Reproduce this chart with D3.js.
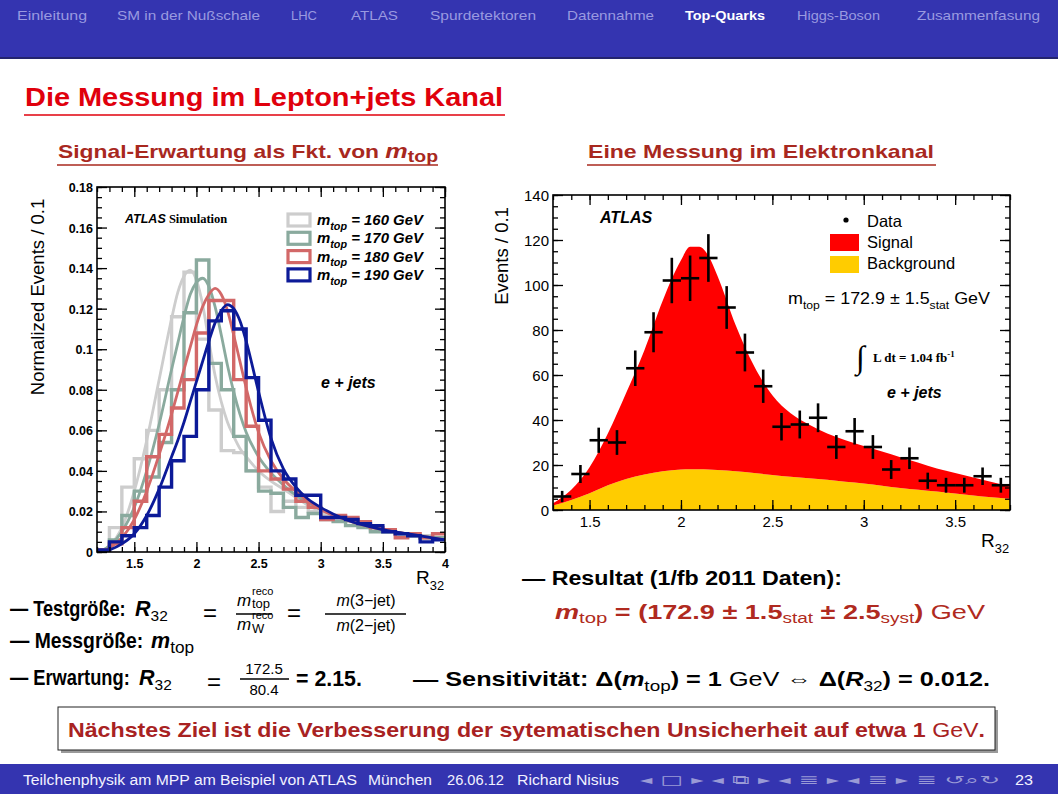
<!DOCTYPE html>
<html><head><meta charset="utf-8">
<script src="https://cdn.jsdelivr.net/npm/d3@7"></script>
<style>body{margin:0;background:#fff}svg{display:block}</style>
</head><body><svg id="s" width="1058" height="794"></svg>
<script>
// ---------------- DATA ----------------
const navItems = ["Einleitung","SM in der Nußschale","LHC","ATLAS","Spurdetektoren","Datennahme","Top-Quarks","Higgs-Boson","Zusammenfasung"];
const activeNav = "Top-Quarks";

// Left plot: normalised R32 templates (bins of width 0.1 starting at binLow)
const binLow = [1.2,1.3,1.4,1.5,1.6,1.7,1.8,1.9,2.0,2.1,2.2,2.3,2.4,2.5,2.6,2.7,2.8,2.9,3.0,3.1,3.2,3.3,3.4,3.5,3.6,3.7,3.8,3.9];
const binWidth = 0.1;
const hist160 = [0.001,0.012,0.032,0.046,0.060,0.080,0.116,0.138,0.105,0.070,0.050,0.049,0.040,0.032,0.020,0.025,0.022,0.020,0.018,0.016,0.015,0.013,0.011,0.010,0.009,0.008,0.008,0.007];
const hist170 = [0.001,0.006,0.018,0.030,0.037,0.054,0.080,0.118,0.144,0.093,0.080,0.057,0.040,0.030,0.029,0.022,0.017,0.019,0.016,0.015,0.013,0.012,0.010,0.010,0.009,0.008,0.007,0.007];
const hist180 = [0.001,0.004,0.012,0.025,0.047,0.058,0.071,0.085,0.108,0.124,0.124,0.085,0.062,0.040,0.036,0.031,0.025,0.022,0.016,0.018,0.017,0.015,0.012,0.011,0.007,0.009,0.007,0.009];
const hist190 = [0.001,0.005,0.008,0.012,0.018,0.032,0.045,0.057,0.080,0.114,0.119,0.110,0.086,0.065,0.040,0.036,0.028,0.028,0.017,0.017,0.016,0.014,0.013,0.010,0.009,0.008,0.005,0.006];
const fitX   = [1.2,1.25,1.3,1.4,1.5,1.6,1.7,1.8,1.85,1.9,1.95,2.0,2.05,2.1,2.15,2.2,2.25,2.3,2.35,2.4,2.5,2.6,2.7,2.8,2.9,3.0,3.2,3.5,3.8,4.0];
const fit160 = [0,0.001,0.003,0.012,0.030,0.055,0.085,0.115,0.128,0.136,0.139,0.134,0.122,0.104,0.087,0.074,0.064,0.057,0.051,0.047,0.040,0.035,0.031,0.027,0.023,0.020,0.016,0.011,0.008,0.007];
const fit170 = [0,0.001,0.003,0.010,0.022,0.040,0.063,0.090,0.103,0.116,0.127,0.133,0.135,0.131,0.121,0.107,0.092,0.079,0.068,0.059,0.047,0.039,0.033,0.028,0.024,0.021,0.016,0.011,0.008,0.007];
const fit180 = [0,0,0.002,0.007,0.016,0.030,0.048,0.068,0.079,0.090,0.101,0.112,0.121,0.127,0.130,0.127,0.119,0.107,0.094,0.081,0.059,0.045,0.036,0.030,0.025,0.021,0.016,0.011,0.008,0.006];
const fit190 = [0,0,0.001,0.004,0.009,0.018,0.031,0.047,0.055,0.064,0.074,0.084,0.094,0.104,0.113,0.119,0.122,0.120,0.114,0.104,0.079,0.056,0.041,0.032,0.026,0.022,0.016,0.011,0.008,0.006];
const massLabels = ["160","170","180","190"];
const leftYTicks = [0,0.02,0.04,0.06,0.08,0.1,0.12,0.14,0.16,0.18];
const leftXTicks = [1.5,2,2.5,3,3.5,4];

// Right plot: electron channel data and fit
const dataX   = [1.35,1.45,1.55,1.65,1.75,1.85,1.95,2.05,2.15,2.25,2.35,2.45,2.55,2.65,2.75,2.85,2.95,3.05,3.15,3.25,3.35,3.45,3.55,3.65,3.75];
const dataY   = [6,16,31,30,63,79,102,103,112,90,70,55,37,38,41,28,35,28,18,23,13,11,11,15,11];
const dataErr = [2.5,4,5.6,5.5,7.9,8.9,10.1,10.1,10.6,9.5,8.4,7.4,6.1,6.2,6.4,5.3,5.9,5.3,4.2,4.8,3.6,3.3,3.3,3.9,3.3];
const fitR    = [1.3,1.4,1.5,1.6,1.7,1.8,1.9,2.0,2.05,2.1,2.15,2.2,2.3,2.4,2.5,2.6,2.7,2.8,2.9,3.0,3.1,3.2,3.3,3.4,3.5,3.6,3.7,3.8];
const background = [2,4.5,7.5,11,13.8,15.8,17.2,18,18.1,18.1,18,17.8,17.2,16.4,15.6,14.8,14.1,13.4,12.6,11.8,10.8,9.8,9,8.2,7.3,6.5,5.7,5];
const signal     = [1,4.5,11.5,23,38.2,55.2,75.8,93,98.9,98.9,95,86.2,64.8,47.6,35.4,28.2,23.9,20.6,18.4,16.7,15.2,13.7,12,10.3,9.2,8,6.8,5.5];
const rightYTicks = [0,20,40,60,80,100,120,140];
const rightXTicks = [1.5,2,2.5,3,3.5];

// ---------------- DRAW ----------------
const FONT = "'Liberation Sans', Arial, Helvetica, sans-serif";
const SERIF = "'Liberation Serif', 'DejaVu Serif', serif";
const svg = d3.select('#s');

function rich(parent, x, y, parts, st) {
  const t = parent.append('text').attr('x', x).attr('y', y)
    .attr('font-family', st.family || FONT).attr('font-size', st.size)
    .attr('font-weight', st.weight || 'normal').attr('fill', st.fill || '#000')
    .attr('font-style', st.style || 'normal');
  if (st.anchor) t.attr('text-anchor', st.anchor);
  if (st.transform) t.attr('transform', st.transform);
  let shift = 0;
  parts.forEach(p => {
    if (typeof p === 'string') p = {t: p};
    const target = p.sub ? st.size * (p.drop || 0.32) : p.sup ? -st.size * 0.42 : 0;
    const s = t.append('tspan').text(p.t).attr('dy', target - shift);
    shift = target;
    if (p.sub || p.sup) s.attr('font-size', st.size * (p.scale || 0.68));
    if (p.italic) s.attr('font-style', 'italic');
    if (p.upright) s.attr('font-style', 'normal');
    if (p.weight) s.attr('font-weight', p.weight);
    if (p.family) s.attr('font-family', p.family);
    if (p.fill) s.attr('fill', p.fill);
    if (p.size) s.attr('font-size', p.size);
  });
  if (st.len) t.attr('textLength', st.len).attr('lengthAdjust', 'spacingAndGlyphs');
  return t;
}
// condensed text: horizontally scaled via transform
function cond(x, y, parts, st, sx) {
  return rich(svg, 0, 0, parts, {...st, transform: `translate(${x},${y}) scale(${sx},1)`});
}

// header
svg.append('rect').attr('x', 0).attr('y', 0).attr('width', 1058).attr('height', 58).attr('fill', '#3434b0');
svg.append('rect').attr('x', 0).attr('y', 57).attr('width', 1058).attr('height', 2).attr('fill', '#24246e');
const navX = [17,117,291,351,430,567,685,797,917];
const navW = [70,143,26,47,106,87,80,83,123];
navItems.forEach((n, i) => {
  svg.append('text').attr('x', navX[i]).attr('y', 20).text(n)
    .attr('font-family', FONT).attr('font-size', 13.5)
    .attr('font-weight', n === activeNav ? 'bold' : 'normal')
    .attr('fill', n === activeNav ? '#ffffff' : '#9a9ae0')
    .attr('textLength', navW[i]).attr('lengthAdjust', 'spacingAndGlyphs');
});

// titles
rich(svg, 25, 106, ["Die Messung im Lepton+jets Kanal"], {size: 26, weight: 'bold', fill: '#e0000c', len: 478});
svg.append('line').attr('x1', 24).attr('x2', 505).attr('y1', 115).attr('y2', 115).attr('stroke', '#e0000c').attr('stroke-width', 1.5);
const SUBC = '#a8281e';
rich(svg, 58, 158, ["Signal-Erwartung als Fkt. von ", {t: 'm', italic: true, size: 21}, {t: 'top', sub: true, scale: 0.85, drop: 0.2}], {size: 19, weight: 'bold', fill: SUBC, len: 380});
svg.append('line').attr('x1', 57).attr('x2', 438).attr('y1', 165).attr('y2', 165).attr('stroke', SUBC).attr('stroke-width', 1.5);
rich(svg, 588, 158, ["Eine Messung im Elektronkanal"], {size: 19, weight: 'bold', fill: SUBC, len: 346});
svg.append('line').attr('x1', 587).attr('x2', 936).attr('y1', 165).attr('y2', 165).attr('stroke', SUBC).attr('stroke-width', 1.5);

// frame + ticks helper
function frame(g, x, y, o) {
  const [xl, xr] = x.range(), [yb, yt] = y.range();
  const put = (fn, sc, vals, size, tr, fmt) => {
    const gg = g.append('g').attr('transform', tr)
      .call(fn(sc).tickValues(vals).tickSize(-size).tickPadding(o.pad).tickFormat(fmt || (() => '')));
    gg.select('.domain').remove();
    gg.selectAll('line').attr('stroke', '#000').attr('stroke-width', 1.3);
    gg.selectAll('text').attr('font-family', FONT).attr('font-size', o.fs).attr('font-weight', o.fw).attr('fill', '#000');
    return gg;
  };
  put(d3.axisBottom, x, o.xMinor, 5, `translate(0,${yb})`);
  put(d3.axisTop, x, o.xMinor, 5, `translate(0,${yt})`);
  put(d3.axisLeft, y, o.yMinor, 5, `translate(${xl},0)`);
  put(d3.axisRight, y, o.yMinor, 5, `translate(${xr},0)`);
  const bx = put(d3.axisBottom, x, o.xMajor, 10, `translate(0,${yb})`, o.xFmt);
  bx.selectAll('text').attr('dy', o.xdy);
  put(d3.axisTop, x, o.xMajor, 10, `translate(0,${yt})`);
  const ly = put(d3.axisLeft, y, o.yMajor, 10, `translate(${xl},0)`, o.yFmt);
  ly.selectAll('text').attr('dy', '0.36em');
  put(d3.axisRight, y, o.yMajor, 10, `translate(${xr},0)`);
  g.append('rect').attr('x', xl).attr('y', yt).attr('width', xr - xl).attr('height', yb - yt)
    .attr('fill', 'none').attr('stroke', '#000').attr('stroke-width', 1.6);
}

// ---------- Left chart ----------
const xL = d3.scaleLinear().domain([1.2, 4]).range([97, 445]);
const yL = d3.scaleLinear().domain([0, 0.18]).range([552, 187]);
const gL = svg.append('g');
const colors = ['#cdcdcd', '#8aaa9e', '#d26868', '#0c1a98'];
const hists = [hist160, hist170, hist180, hist190];
const fits = [fit160, fit170, fit180, fit190];
const clipL = svg.append('clipPath').attr('id', 'clipL');
clipL.append('rect').attr('x', 97).attr('y', 187).attr('width', 348).attr('height', 365);
const stepLine = d3.line().x(d => xL(d[0])).y(d => yL(d[1])).curve(d3.curveStepAfter);
const fitLine = d3.line().x(d => xL(d[0])).y(d => yL(d[1])).curve(d3.curveMonotoneX);
hists.forEach((h, k) => {
  const pts = binLow.map((b, i) => [b, h[i]]);
  pts.push([binLow[binLow.length - 1] + binWidth, h[h.length - 1]]);
  gL.append('path').attr('d', stepLine(pts)).attr('fill', 'none').attr('stroke', colors[k])
    .attr('stroke-width', 3.4).attr('clip-path', 'url(#clipL)');
  gL.append('path').attr('d', fitLine(fitX.map((v, i) => [v, fits[k][i]]))).attr('fill', 'none')
    .attr('stroke', colors[k]).attr('stroke-width', 2.8).attr('clip-path', 'url(#clipL)');
});
frame(gL, xL, yL, {
  xMajor: leftXTicks, xMinor: d3.range(12, 41).map(v => v / 10),
  yMajor: leftYTicks, yMinor: d3.range(0, 37).map(v => v * 0.005),
  xFmt: d => String(d), yFmt: d => d === 0 ? '0' : String(+d.toFixed(2)),
  fs: 12.5, fw: 'bold', pad: 4, xdy: '0.95em'
});
rich(svg, 0, 0, ["Normalized Events / 0.1"], {size: 18.5, anchor: 'middle', transform: 'translate(44,297) rotate(-90)'});
rich(svg, 416, 584, ["R", {t: '32', sub: true}], {size: 19});
// ATLAS Simulation
rich(svg, 125, 223, [{t: 'ATLAS', italic: true}, {t: ' Simulation', family: SERIF, upright: true}], {size: 12.5, weight: 'bold'});
// legend
massLabels.forEach((m, i) => {
  const yy = 214 + i * 18.3;
  svg.append('rect').attr('x', 288).attr('y', yy).attr('width', 22).attr('height', 12)
    .attr('fill', 'none').attr('stroke', colors[i]).attr('stroke-width', 3.2);
  rich(svg, 317, yy + 11, [{t: 'm'}, {t: 'top', sub: true, scale: 0.72}, ` = ${m} GeV`], {size: 14.5, weight: 'bold', style: 'italic', len: 106});
});
rich(svg, 321, 388, ["e + jets"], {size: 16, weight: 'bold', style: 'italic'});

// ---------- Right chart ----------
const xR = d3.scaleLinear().domain([1.3, 3.8]).range([553, 1010]);
const yR = d3.scaleLinear().domain([0, 140]).range([510, 195]);
const gR = svg.append('g');
const stackData = fitR.map((r, i) => ({r, background: background[i], signal: signal[i]}));
const stacked = d3.stack().keys(['background', 'signal'])(stackData);
const area = d3.area().x(d => xR(d.data.r)).y0(d => yR(d[0])).y1(d => yR(d[1])).curve(d3.curveMonotoneX);
const fillCol = {background: '#ffcc00', signal: '#ff0000'};
stacked.forEach(s => gR.append('path').attr('d', area(s)).attr('fill', fillCol[s.key]));
dataX.forEach((r, i) => {
  gR.append('line').attr('x1', xR(r)).attr('x2', xR(r)).attr('y1', yR(dataY[i] - dataErr[i])).attr('y2', yR(dataY[i] + dataErr[i]))
    .attr('stroke', '#000').attr('stroke-width', 2.6);
  gR.append('line').attr('x1', xR(r - binWidth / 2)).attr('x2', xR(r + binWidth / 2)).attr('y1', yR(dataY[i])).attr('y2', yR(dataY[i]))
    .attr('stroke', '#000').attr('stroke-width', 2.6);
});
frame(gR, xR, yR, {
  xMajor: rightXTicks, xMinor: d3.range(13, 39).map(v => v / 10),
  yMajor: rightYTicks, yMinor: d3.range(0, 29).map(v => v * 5),
  xFmt: d => String(d), yFmt: d => String(d),
  fs: 15, fw: 'normal', pad: 4, xdy: '0.85em'
});
rich(svg, 0, 0, ["Events / 0.1"], {size: 18.5, anchor: 'middle', transform: 'translate(508,256) rotate(-90)'});
rich(svg, 981, 547, ["R", {t: '32', sub: true}], {size: 19});
rich(svg, 600, 223, ["ATLAS"], {size: 16, weight: 'bold', style: 'italic'});
svg.append('circle').attr('cx', 846).attr('cy', 220).attr('r', 2.6).attr('fill', '#000');
rich(svg, 867, 227, ["Data"], {size: 16.5});
svg.append('rect').attr('x', 830).attr('y', 234).attr('width', 29).attr('height', 17).attr('fill', '#ff0000');
rich(svg, 867, 248, ["Signal"], {size: 16.5});
svg.append('rect').attr('x', 830).attr('y', 256).attr('width', 29).attr('height', 17).attr('fill', '#ffcc00');
rich(svg, 867, 269, ["Background"], {size: 16.5});
rich(svg, 788, 304, ["m", {t: 'top', sub: true}, " = 172.9 ", "\u00B1", " 1.5", {t: 'stat', sub: true}, " GeV"], {size: 17, len: 202});
rich(svg, 856, 368, ["\u222B"], {size: 32, family: SERIF});
rich(svg, 873, 362, ["L dt = 1.04 fb", {t: '-1', sup: true}], {size: 13, weight: 'bold', family: SERIF});
rich(svg, 887, 398, ["e + jets"], {size: 16, weight: 'bold', style: 'italic'});

// ---------- Text block ----------
const B = {size: 21.5, weight: 'bold'};
// line 1
cond(10, 616, ["\u2014 Testgröße:"], B, 0.845);
rich(svg, 135, 616, [{t: 'R', italic: true}, {t: '32', sub: true, weight: 'normal', scale: 0.72, drop: 0.25}], B);
rich(svg, 203, 621, ["="], {size: 24});
rich(svg, 237, 606, [{t: 'm', italic: true}], {size: 17});
rich(svg, 252, 595, ["reco"], {size: 11});
rich(svg, 252, 608, ["top"], {size: 13});
svg.append('line').attr('x1', 236).attr('x2', 272).attr('y1', 614).attr('y2', 614).attr('stroke', '#000').attr('stroke-width', 1.3);
rich(svg, 237, 630, [{t: 'm', italic: true}], {size: 17});
rich(svg, 252, 619, ["reco"], {size: 11});
rich(svg, 252, 633, ["W"], {size: 13});
rich(svg, 287, 621, ["="], {size: 24});
rich(svg, 366, 606, [{t: 'm', italic: true}, "(3\u2212jet)"], {size: 16, anchor: 'middle'});
svg.append('line').attr('x1', 325).attr('x2', 406).attr('y1', 614).attr('y2', 614).attr('stroke', '#000').attr('stroke-width', 1.3);
rich(svg, 366, 631, [{t: 'm', italic: true}, "(2\u2212jet)"], {size: 16, anchor: 'middle'});
// line 2
cond(10, 648, ["\u2014 Messgröße:"], B, 0.9);
rich(svg, 151, 648, [{t: 'm', italic: true}, {t: 'top', sub: true, weight: 'normal', scale: 0.8, drop: 0.22}], B);
// line 3
cond(10, 685, ["\u2014 Erwartung:"], B, 0.85);
rich(svg, 139, 685, [{t: 'R', italic: true}, {t: '32', sub: true, weight: 'normal', scale: 0.72, drop: 0.25}], B);
rich(svg, 207, 690, ["="], {size: 24});
rich(svg, 264, 674, ["172.5"], {size: 15, anchor: 'middle'});
svg.append('line').attr('x1', 240).attr('x2', 289).attr('y1', 679).attr('y2', 679).attr('stroke', '#000').attr('stroke-width', 1.3);
rich(svg, 264, 695, ["80.4"], {size: 15, anchor: 'middle'});
cond(296, 686, ["= 2.15."], {size: 22.5, weight: 'bold'}, 0.95);

rich(svg, 413, 686, ["\u2014 Sensitivität: \u0394(", {t: 'm', italic: true}, {t: 'top', sub: true, scale: 0.75, weight: 'normal', drop: 0.22},
  ") = 1 ", {t: 'GeV', weight: 'normal'}, " \u21D4 \u0394(", {t: 'R', italic: true}, {t: '32', sub: true, weight: 'normal', drop: 0.25}, ") = 0.012."], {size: 20.5, weight: 'bold', len: 577});

rich(svg, 522, 585, ["\u2014 Resultat (1/fb 2011 Daten):"], {size: 19.5, weight: 'bold', len: 320});
rich(svg, 555, 619, [{t: 'm', italic: true}, {t: 'top', sub: true, scale: 0.75, weight: 'normal', drop: 0.22}, " = (172.9  \u00B1 1.5", {t: 'stat', sub: true, scale: 0.7, weight: 'normal', drop: 0.22},
  "  \u00B1 2.5", {t: 'syst', sub: true, scale: 0.7, weight: 'normal', drop: 0.22}, ")  ", {t: 'GeV', weight: 'normal'}], {size: 20, weight: 'bold', fill: '#b02a20', len: 430});

// conclusion box
svg.append('rect').attr('x', 61).attr('y', 710).attr('width', 937).attr('height', 43).attr('fill', '#9a9a9a');
svg.append('rect').attr('x', 58).attr('y', 707).attr('width', 937).attr('height', 43).attr('fill', '#fff').attr('stroke', '#222').attr('stroke-width', 1);
rich(svg, 68, 737, ["Nächstes Ziel ist die Verbesserung der sytematischen Unsicherheit auf etwa 1 ", {t: 'GeV', weight: 'normal'}, "."], {size: 20.5, weight: 'bold', fill: '#a82222', len: 917});

// footer
svg.append('rect').attr('x', 0).attr('y', 764).attr('width', 1058).attr('height', 30).attr('fill', '#3434b0');
const foot = [["Teilchenphysik am MPP am Beispiel von ATLAS", 23, 334], ["München", 368, 64], ["26.06.12", 447, 57], ["Richard Nisius", 517, 102], ["23", 1015, 18]];
foot.forEach(f => svg.append('text').attr('x', f[1]).attr('y', 785).text(f[0]).attr('font-family', FONT)
  .attr('font-size', 14).attr('fill', '#f2f2ff').attr('textLength', f[2]).attr('lengthAdjust', 'spacingAndGlyphs'));
svg.append('text').attr('x', 640).attr('y', 784).text("\u25C2 \u25A1 \u25B8  \u25C2 \u29C9 \u25B8  \u25C2 \u2263 \u25B8  \u25C2 \u2263 \u25B8     \u2263     \u21BA\u2315\u21BB")
  .attr('font-family', "'DejaVu Sans', sans-serif").attr('font-size', 12).attr('fill', '#9a9ad6')
  .attr('textLength', 360).attr('lengthAdjust', 'spacingAndGlyphs');
</script></body></html>
